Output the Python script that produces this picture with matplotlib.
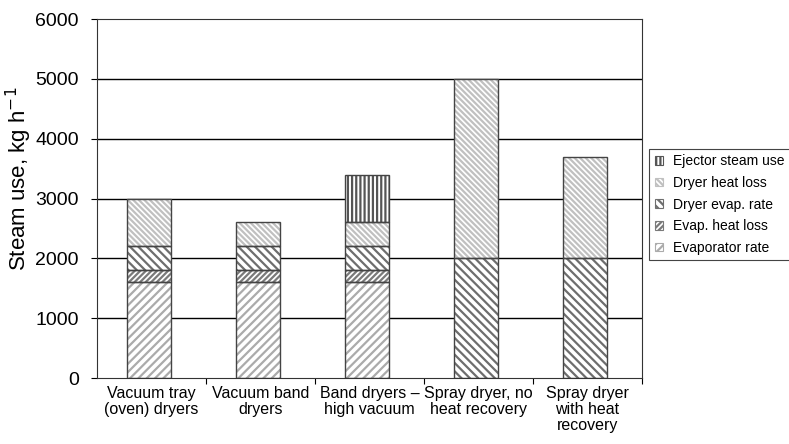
import matplotlib
matplotlib.use('Agg')
import matplotlib.pyplot as plt
import numpy as np

# Dados
categorias = ['Vacuum tray\n(oven) dryers', 'Vacuum band\ndryers', 'Band dryers \u2013\nhigh vacuum',
              'Spray dryer, no\nheat recovery', 'Spray dryer\nwith heat\nrecovery']
evaporator_rate = [1600, 1600, 1600, 0, 0]
evap_heat_loss = [200, 200, 200, 0, 0]
dryer_evap_rate = [400, 400, 400, 2000, 2000]
dryer_heat_loss = [800, 400, 400, 3000, 1700]
ejector_steam = [0, 0, 800, 0, 0]

series = [
    ('Evaporator rate', evaporator_rate, '////', '#ababab'),
    ('Evap. heat loss', evap_heat_loss, '//////', '#7a7a7a'),
    ('Dryer evap. rate', dryer_evap_rate, '\\\\\\\\', '#6e6e6e'),
    ('Dryer heat loss', dryer_heat_loss, '\\\\\\\\\\\\', '#c0c0c0'),
    ('Ejector steam use', ejector_steam, '||||', '#555555'),
]

plt.rcParams['font.family'] = ['Liberation Sans', 'DejaVu Sans']
plt.rcParams['hatch.linewidth'] = 1.6

fig = plt.figure(figsize=(7.89, 4.44), dpi=100)
ax = fig.add_axes([0.1229, 0.1486, 0.6908, 0.8086])

x = np.arange(len(categorias))
largura = 0.404
base = np.zeros(len(categorias))
handles = []
for nome, valores, hatch, cor in series:
    valores = np.array(valores, dtype=float)
    mask = valores > 0
    ax.bar(x[mask] - 0.02, valores[mask], largura, bottom=base[mask], color='white',
           edgecolor=cor, hatch=hatch, linewidth=0, zorder=2)
    ax.bar(x[mask] - 0.02, valores[mask], largura, bottom=base[mask], fill=False,
           edgecolor='#444444', linewidth=1.0, zorder=3)
    h = ax.bar([0], [0], 0, color='white', edgecolor=cor, hatch=hatch, linewidth=0.8)
    handles.append((h, nome))
    base += valores

ax.set_ylim(0, 6000)
ax.set_xlim(-0.5, len(categorias) - 0.5)
ax.set_yticks(range(0, 6001, 1000))
for yv in range(1000, 6000, 1000):
    ax.axhline(yv, color='black', linewidth=1.0, zorder=1)

# ticks nas fronteiras, rótulos no centro
ax.set_xticks(np.arange(0.5, len(categorias), 1.0))
ax.set_xticklabels([])
ax.set_xticks(x, minor=True)
ax.set_xticklabels(categorias, minor=True, fontsize=11.5, linespacing=1.05)
ax.tick_params(axis='x', which='minor', length=0, pad=6)
ax.tick_params(axis='x', which='major', length=4, direction='out')
ax.tick_params(axis='y', length=4, direction='out', labelsize=14, pad=9)

for s in ax.spines.values():
    s.set_color('#333333')
    s.set_linewidth(0.8)

ax.set_ylabel('Steam use, kg h$^{-1}$', fontsize=16)
ax.yaxis.set_label_coords(-0.115, 0.555)

leg = fig.legend([h for h, _ in handles[::-1]], [n for _, n in handles[::-1]],
                 loc='upper left', bbox_to_anchor=(0.8226, 0.665), borderaxespad=0,
                 fontsize=10, handlelength=0.6, handleheight=0.6, handletextpad=0.7,
                 labelspacing=0.55, borderpad=0.4, fancybox=False,
                 edgecolor='#444444', framealpha=1)
leg.get_frame().set_linewidth(0.8)

plt.savefig('out.png', dpi=100)
